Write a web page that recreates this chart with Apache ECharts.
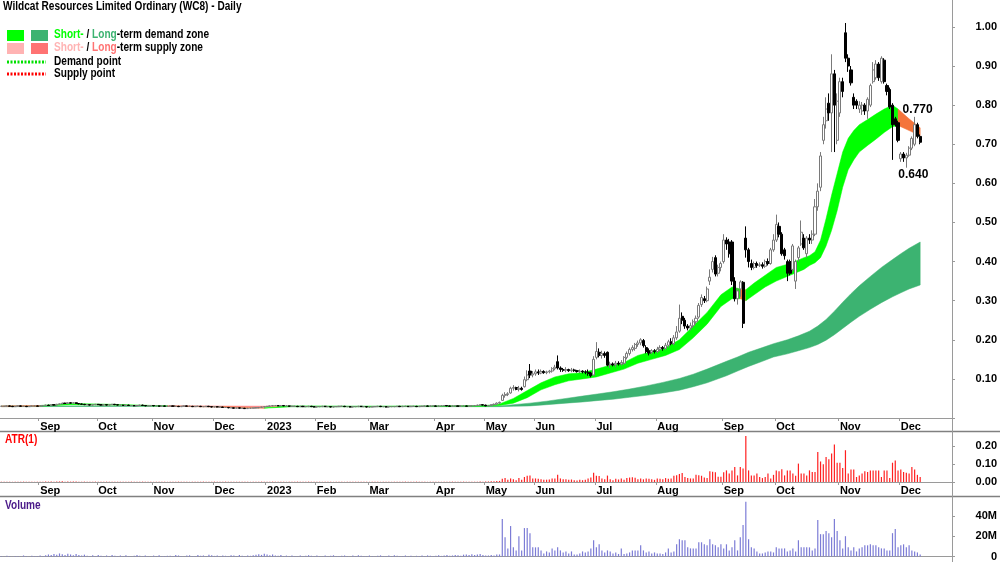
<!DOCTYPE html>
<html>
<head>
<meta charset="utf-8">
<title>Wildcat Resources (WC8) - Daily</title>
<script src="https://cdn.jsdelivr.net/npm/echarts@6/dist/echarts.min.js"></script>
<style>
  html, body { margin: 0; padding: 0; background: #fff; }
  #chart { width: 1000px; height: 562px; }
</style>
</head>
<body>
<div id="chart"></div>
<script>
// trading-day slots on the x axis, month starts and their labels
const slotCount = 344;
const monthStarts = [14, 35, 55, 77, 96, 114, 133, 157, 175, 193, 215, 237, 261, 280, 303, 325];
const monthLabels = ['Sep', 'Oct', 'Nov', 'Dec', '2023', 'Feb', 'Mar', 'Apr', 'May', 'Jun', 'Jul', 'Aug', 'Sep', 'Oct', 'Nov', 'Dec'];

// daily candles: [open, close, low, high]
const ohlc = [
  // Aug 2022
  [0.030,0.030,0.029,0.031],[0.030,0.030,0.029,0.031],[0.030,0.031,0.029,0.032],[0.031,0.030,0.029,0.032],[0.030,0.029,0.028,0.031],
  [0.029,0.030,0.028,0.031],[0.030,0.031,0.029,0.032],[0.031,0.030,0.029,0.032],[0.030,0.030,0.029,0.031],[0.030,0.029,0.028,0.031],
  [0.029,0.030,0.028,0.031],[0.030,0.031,0.029,0.032],[0.031,0.031,0.030,0.032],[0.031,0.030,0.029,0.032],
  // Sep 2022
  [0.030,0.031,0.029,0.032],[0.031,0.032,0.030,0.033],[0.032,0.033,0.031,0.034],[0.033,0.032,0.031,0.034],[0.032,0.034,0.031,0.035],
  [0.034,0.033,0.032,0.035],[0.033,0.035,0.032,0.036],[0.035,0.036,0.034,0.037],[0.036,0.038,0.035,0.039],[0.038,0.037,0.036,0.039],
  [0.037,0.039,0.036,0.040],[0.039,0.038,0.037,0.040],[0.038,0.039,0.037,0.040],[0.039,0.037,0.036,0.040],[0.037,0.036,0.035,0.038],
  [0.036,0.035,0.034,0.037],[0.035,0.034,0.033,0.036],[0.034,0.034,0.033,0.035],[0.034,0.033,0.032,0.035],[0.033,0.034,0.032,0.035],
  [0.034,0.035,0.033,0.036],
  // Oct 2022
  [0.035,0.034,0.033,0.036],[0.034,0.033,0.032,0.035],[0.033,0.034,0.032,0.035],[0.034,0.033,0.032,0.035],[0.033,0.034,0.032,0.035],
  [0.034,0.035,0.033,0.036],[0.035,0.034,0.033,0.036],[0.034,0.033,0.032,0.035],[0.033,0.033,0.032,0.034],[0.033,0.032,0.031,0.034],
  [0.032,0.033,0.031,0.034],[0.033,0.032,0.031,0.034],[0.032,0.032,0.031,0.033],[0.032,0.031,0.030,0.033],[0.031,0.032,0.030,0.033],
  [0.032,0.033,0.031,0.034],[0.033,0.032,0.031,0.034],[0.032,0.031,0.030,0.033],[0.031,0.031,0.030,0.032],[0.031,0.032,0.030,0.033],
  // Nov 2022
  [0.032,0.031,0.030,0.033],[0.031,0.031,0.030,0.032],[0.031,0.030,0.029,0.032],[0.030,0.031,0.029,0.032],[0.031,0.030,0.029,0.032],
  [0.030,0.030,0.029,0.031],[0.030,0.031,0.029,0.032],[0.031,0.030,0.029,0.032],[0.030,0.030,0.029,0.031],[0.030,0.029,0.028,0.031],
  [0.029,0.030,0.028,0.031],[0.030,0.031,0.029,0.032],[0.031,0.030,0.029,0.032],[0.030,0.030,0.029,0.031],[0.030,0.029,0.028,0.031],
  [0.029,0.030,0.028,0.031],[0.030,0.030,0.029,0.031],[0.030,0.029,0.028,0.031],[0.029,0.029,0.028,0.030],[0.029,0.030,0.028,0.031],
  [0.030,0.029,0.028,0.031],[0.029,0.028,0.027,0.030],
  // Dec 2022
  [0.028,0.029,0.027,0.030],[0.029,0.028,0.027,0.030],[0.028,0.028,0.027,0.029],[0.028,0.027,0.026,0.029],[0.027,0.027,0.026,0.028],
  [0.027,0.026,0.025,0.028],[0.026,0.026,0.025,0.027],[0.026,0.025,0.024,0.027],[0.025,0.026,0.024,0.027],[0.026,0.025,0.024,0.027],
  [0.025,0.025,0.024,0.026],[0.025,0.024,0.023,0.026],[0.024,0.025,0.023,0.026],[0.025,0.025,0.024,0.026],[0.025,0.026,0.024,0.027],
  [0.026,0.026,0.025,0.027],[0.026,0.027,0.025,0.028],[0.027,0.028,0.026,0.029],[0.028,0.029,0.027,0.030],
  // Jan 2023
  [0.029,0.030,0.028,0.031],[0.030,0.031,0.029,0.032],[0.031,0.032,0.030,0.033],[0.032,0.032,0.031,0.033],[0.032,0.031,0.030,0.033],
  [0.031,0.032,0.030,0.033],[0.032,0.031,0.030,0.033],[0.031,0.031,0.030,0.032],[0.031,0.030,0.029,0.032],[0.030,0.030,0.029,0.031],
  [0.030,0.030,0.029,0.031],[0.030,0.029,0.028,0.031],[0.029,0.030,0.028,0.031],[0.030,0.029,0.028,0.031],[0.029,0.029,0.028,0.030],
  [0.029,0.030,0.028,0.031],[0.030,0.029,0.028,0.031],[0.029,0.028,0.027,0.030],
  // Feb 2023
  [0.028,0.029,0.027,0.030],[0.029,0.029,0.028,0.030],[0.029,0.030,0.028,0.031],[0.030,0.029,0.028,0.031],[0.029,0.029,0.028,0.030],
  [0.029,0.028,0.027,0.030],[0.028,0.029,0.027,0.030],[0.029,0.029,0.028,0.030],[0.029,0.030,0.028,0.031],[0.030,0.030,0.029,0.031],
  [0.030,0.029,0.028,0.031],[0.029,0.029,0.028,0.030],[0.029,0.028,0.027,0.030],[0.028,0.029,0.027,0.030],[0.029,0.029,0.028,0.030],
  [0.029,0.030,0.028,0.031],[0.030,0.029,0.028,0.031],[0.029,0.029,0.028,0.030],[0.029,0.028,0.027,0.030],
  // Mar 2023
  [0.028,0.028,0.027,0.029],[0.028,0.029,0.027,0.030],[0.029,0.029,0.028,0.030],[0.029,0.030,0.028,0.031],[0.030,0.029,0.028,0.031],
  [0.029,0.029,0.028,0.030],[0.029,0.028,0.027,0.030],[0.028,0.029,0.027,0.030],[0.029,0.029,0.028,0.030],[0.029,0.029,0.028,0.030],
  [0.029,0.030,0.028,0.031],[0.030,0.029,0.028,0.031],[0.029,0.030,0.028,0.031],[0.030,0.030,0.029,0.031],[0.030,0.029,0.028,0.031],
  [0.029,0.030,0.028,0.031],[0.030,0.030,0.029,0.031],[0.030,0.029,0.028,0.031],[0.029,0.030,0.028,0.031],[0.030,0.030,0.029,0.031],
  [0.030,0.031,0.029,0.032],[0.031,0.030,0.029,0.032],[0.030,0.031,0.029,0.032],[0.031,0.031,0.030,0.032],
  // Apr 2023
  [0.031,0.030,0.029,0.032],[0.030,0.031,0.029,0.032],[0.031,0.031,0.030,0.032],[0.031,0.032,0.030,0.033],[0.032,0.031,0.030,0.033],
  [0.031,0.030,0.029,0.032],[0.030,0.031,0.029,0.032],[0.031,0.031,0.030,0.032],[0.031,0.030,0.029,0.032],[0.030,0.031,0.029,0.032],
  [0.031,0.031,0.030,0.032],[0.031,0.030,0.029,0.032],[0.030,0.031,0.029,0.032],[0.031,0.031,0.030,0.032],[0.031,0.032,0.030,0.033],
  [0.032,0.033,0.031,0.034],[0.033,0.034,0.032,0.035],[0.034,0.033,0.032,0.035],
  // May 2023
  [0.033,0.031,0.030,0.034],[0.031,0.032,0.030,0.033],[0.032,0.034,0.031,0.035],[0.034,0.035,0.033,0.037],[0.035,0.038,0.034,0.040],
  [0.038,0.040,0.036,0.042],[0.045,0.058,0.044,0.062],[0.058,0.060,0.052,0.066],[0.060,0.062,0.056,0.066],[0.064,0.076,0.062,0.080],
  [0.076,0.078,0.070,0.084],[0.078,0.073,0.071,0.080],[0.073,0.076,0.068,0.082],[0.076,0.073,0.070,0.080],[0.080,0.098,0.078,0.106],
  [0.098,0.110,0.094,0.122],[0.120,0.110,0.102,0.138],[0.110,0.113,0.104,0.120],
  // Jun 2023
  [0.113,0.118,0.108,0.124],[0.118,0.115,0.110,0.124],[0.115,0.119,0.112,0.124],[0.119,0.116,0.113,0.122],[0.116,0.118,0.112,0.121],
  [0.118,0.120,0.114,0.123],[0.120,0.126,0.116,0.130],[0.126,0.130,0.122,0.136],[0.144,0.128,0.124,0.160],[0.128,0.124,0.118,0.132],
  [0.124,0.122,0.118,0.128],[0.122,0.124,0.117,0.130],[0.124,0.121,0.118,0.126],[0.121,0.123,0.117,0.128],[0.123,0.121,0.118,0.126],
  [0.121,0.119,0.116,0.123],[0.119,0.120,0.115,0.124],[0.120,0.118,0.114,0.122],[0.118,0.117,0.112,0.122],[0.117,0.114,0.108,0.124],
  [0.115,0.108,0.104,0.118],[0.110,0.150,0.108,0.158],
  // Jul 2023
  [0.155,0.170,0.150,0.194],[0.168,0.160,0.155,0.178],[0.160,0.165,0.152,0.172],[0.165,0.160,0.154,0.170],[0.168,0.135,0.132,0.170],
  [0.136,0.138,0.128,0.144],[0.138,0.136,0.132,0.142],[0.136,0.140,0.130,0.146],[0.140,0.138,0.134,0.145],[0.138,0.142,0.134,0.148],
  [0.140,0.155,0.136,0.158],[0.155,0.165,0.150,0.170],[0.165,0.175,0.160,0.180],[0.175,0.180,0.170,0.186],[0.178,0.188,0.172,0.192],
  [0.188,0.192,0.182,0.198],[0.192,0.200,0.186,0.204],[0.198,0.185,0.180,0.202],[0.180,0.170,0.165,0.186],[0.172,0.166,0.160,0.178],
  [0.168,0.172,0.164,0.176],[0.172,0.170,0.165,0.176],
  // Aug 2023
  [0.170,0.176,0.166,0.182],[0.176,0.180,0.170,0.186],[0.180,0.178,0.172,0.184],[0.178,0.186,0.174,0.192],[0.186,0.195,0.180,0.200],
  [0.195,0.190,0.186,0.204],[0.190,0.205,0.186,0.212],[0.205,0.220,0.200,0.235],[0.222,0.255,0.218,0.290],[0.260,0.250,0.240,0.270],
  [0.250,0.235,0.228,0.256],[0.235,0.230,0.224,0.240],[0.230,0.236,0.224,0.244],[0.236,0.246,0.230,0.252],[0.246,0.255,0.240,0.262],
  [0.258,0.288,0.254,0.294],[0.290,0.308,0.284,0.316],[0.305,0.300,0.294,0.312],[0.300,0.330,0.296,0.336],[0.350,0.360,0.340,0.380],
  [0.380,0.400,0.372,0.412],[0.410,0.368,0.362,0.416],[0.370,0.385,0.362,0.392],[0.385,0.395,0.375,0.400],
  // Sep 2023
  [0.400,0.455,0.395,0.470],[0.455,0.445,0.430,0.462],[0.450,0.420,0.410,0.458],[0.450,0.350,0.340,0.455],[0.350,0.305,0.298,0.360],
  [0.305,0.325,0.290,0.332],[0.330,0.348,0.310,0.352],[0.347,0.242,0.230,0.350],[0.460,0.430,0.410,0.490],[0.430,0.400,0.385,0.435],
  [0.395,0.385,0.378,0.405],[0.385,0.395,0.380,0.400],[0.395,0.390,0.384,0.400],[0.390,0.392,0.386,0.398],[0.392,0.388,0.382,0.398],
  [0.388,0.400,0.384,0.405],[0.400,0.395,0.390,0.408],[0.395,0.430,0.392,0.435],[0.430,0.455,0.425,0.470],
  // Oct 2023
  [0.455,0.495,0.450,0.520],[0.490,0.470,0.462,0.500],[0.470,0.420,0.415,0.475],[0.430,0.415,0.405,0.435],[0.400,0.370,0.350,0.405],
  [0.400,0.370,0.365,0.405],[0.380,0.440,0.375,0.445],[0.350,0.400,0.330,0.405],[0.410,0.435,0.400,0.440],[0.445,0.475,0.440,0.505],
  [0.460,0.435,0.430,0.470],[0.420,0.460,0.410,0.465],[0.460,0.455,0.445,0.470],[0.455,0.470,0.445,0.480],[0.470,0.540,0.465,0.560],
  [0.540,0.580,0.530,0.600],[0.590,0.670,0.580,0.680],[0.710,0.750,0.700,0.770],[0.760,0.790,0.740,0.820],[0.805,0.780,0.760,0.830],
  [0.780,0.880,0.680,0.930],[0.880,0.800,0.680,0.890],[0.710,0.810,0.700,0.830],
  // Nov 2023
  [0.780,0.860,0.770,0.870],[0.860,0.835,0.820,0.870],[0.985,0.920,0.910,1.010],[0.920,0.900,0.885,0.930],[0.890,0.857,0.850,0.900],
  [0.820,0.800,0.790,0.830],[0.810,0.800,0.790,0.815],[0.790,0.800,0.780,0.810],[0.785,0.800,0.775,0.808],[0.800,0.785,0.775,0.805],
  [0.785,0.815,0.765,0.820],[0.800,0.850,0.795,0.855],[0.860,0.890,0.855,0.910],[0.870,0.905,0.865,0.915],[0.905,0.870,0.862,0.910],
  [0.860,0.920,0.855,0.925],[0.915,0.860,0.855,0.920],[0.850,0.835,0.825,0.855],[0.840,0.795,0.790,0.845],[0.800,0.750,0.660,0.805],
  [0.765,0.750,0.745,0.770],[0.755,0.710,0.705,0.760],
  // Dec 2023
  [0.663,0.675,0.655,0.680],[0.675,0.665,0.655,0.680],[0.665,0.672,0.640,0.678],[0.672,0.690,0.668,0.695],[0.690,0.715,0.685,0.720],
  [0.700,0.750,0.695,0.770],[0.750,0.720,0.715,0.755],[0.720,0.705,0.700,0.725]
];

// ATR(1) per day
const atr = [
  0.002,0.001,0.002,0.002,0.001,0.002,0.002,0.001,0.002,0.001,0.002,0.002,0.001,0.002,0.002,0.002,0.003,0.002,0.003,0.002,0.003,0.003,0.004,0.002,0.003,
  0.002,0.003,0.003,0.002,0.002,0.002,0.001,0.002,0.002,0.002,0.002,0.001,0.002,0.002,0.002,0.002,0.002,0.001,0.001,0.002,0.001,0.002,0.002,0.001,0.002,
  0.002,0.002,0.001,0.001,0.002,0.001,0.001,0.002,0.001,0.002,0.001,0.002,0.001,0.001,0.002,0.002,0.002,0.001,0.001,0.002,0.002,0.001,0.001,0.002,0.001,
  0.002,0.002,0.002,0.001,0.002,0.001,0.002,0.001,0.002,0.002,0.001,0.001,0.002,0.002,0.001,0.001,0.002,0.002,0.002,0.002,0.002,0.002,0.002,0.002,0.002,
  0.001,0.002,0.001,0.001,0.002,0.001,0.001,0.002,0.001,0.002,0.001,0.002,0.001,0.001,0.002,0.002,0.001,0.001,0.002,0.002,0.001,0.001,0.002,0.001,0.001,
  0.001,0.002,0.001,0.002,0.001,0.001,0.002,0.001,0.001,0.002,0.001,0.002,0.001,0.001,0.002,0.001,0.001,0.001,0.002,0.001,0.001,0.002,0.001,0.002,0.001,
  0.002,0.001,0.001,0.002,0.001,0.002,0.001,0.001,0.002,0.001,0.002,0.001,0.002,0.002,0.001,0.002,0.001,0.002,0.002,0.001,0.002,0.002,0.002,0.003,0.002,
  // May 2023
  0.003,0.003,0.004,0.004,0.006,0.006,0.018,0.022,0.012,0.020,0.016,0.010,0.022,0.012,0.028,0.035,0.036,0.020,
  // Jun
  0.020,0.018,0.015,0.012,0.013,0.014,0.020,0.020,0.040,0.020,0.015,0.016,0.012,0.014,0.010,0.008,0.012,0.010,0.012,0.020,0.025,0.052,
  // Jul
  0.035,0.034,0.020,0.015,0.036,0.016,0.010,0.018,0.014,0.020,0.012,0.022,0.025,0.026,0.024,0.016,0.020,0.015,0.020,0.018,0.015,0.012,
  // Aug
  0.020,0.018,0.015,0.022,0.018,0.020,0.035,0.038,0.045,0.050,0.028,0.022,0.020,0.020,0.040,0.038,0.035,0.025,0.022,0.060,0.058,0.055,0.030,0.030,
  // Sep
  0.055,0.065,0.047,0.065,0.084,0.037,0.084,0.075,0.258,0.065,0.037,0.037,0.047,0.028,0.022,0.028,0.047,0.019,0.040,
  // Oct
  0.065,0.060,0.071,0.037,0.065,0.065,0.047,0.035,0.103,0.047,0.047,0.037,0.065,0.056,0.056,0.168,0.115,0.100,0.140,0.127,0.160,0.210,0.108,
  // Nov
  0.108,0.078,0.178,0.047,0.070,0.070,0.028,0.037,0.047,0.060,0.056,0.065,0.065,0.065,0.065,0.028,0.065,0.065,0.022,0.108,0.120,0.065,
  // Dec
  0.070,0.056,0.052,0.047,0.084,0.070,0.040,0.028
];

// daily volume, millions of shares
const volume = [
  0.5,0.3,0.8,0.4,0.2,0.6,0.5,0.3,1.0,0.4,0.3,0.7,0.5,0.4,0.9,0.6,1.2,
  2.0,1.5,2.5,1.8,3.0,2.2,1.6,2.8,2.0,1.2,2.4,1.5,1.0,1.8,0.8,
  0.6,1.2,0.5,1.6,0.8,0.4,1.0,0.6,1.4,0.7,0.5,0.9,0.4,1.2,0.6,0.3,0.8,1.5,0.7,0.4,1.1,0.5,0.3,0.9,0.6,1.3,0.5,0.4,0.7,
  0.8,0.4,1.6,1.0,0.5,0.3,0.9,1.2,0.6,0.4,1.4,0.8,1.0,0.5,1.8,1.2,0.6,0.9,0.4,1.1,0.7,0.5,1.3,0.9,0.6,1.5,0.8,0.4,1.0,0.7,
  1.2,1.8,2.2,1.6,2.6,1.9,1.3,2.0,1.0,0.8,1.4,0.6,0.9,0.5,1.1,
  0.6,0.4,1.0,0.5,0.8,1.3,0.7,0.4,0.9,0.6,0.3,1.1,0.5,0.8,1.2,0.6,0.4,0.7,1.0,0.5,0.3,0.9,0.6,1.2,0.8,0.4,0.6,1.0,0.5,0.3,
  0.8,1.1,0.6,0.4,0.9,0.5,1.2,0.7,0.4,0.6,1.0,0.5,0.8,0.3,0.7,
  0.6,0.9,0.5,1.1,0.7,0.4,0.8,1.2,0.6,0.9,1.4,0.7,1.0,1.6,1.2,0.8,1.8,2.0,1.4,2.2,1.6,1.9,2.4,1.5,
  // May 2023
  1,1,1.5,1,2,2,37,19,8,30,9,6,20,6,28,28,23,9,
  // Jun
  9,9,6,3,5,4,8,6,9,6,4,5,3,5,2,2,3,5,4,5,8,16,
  // Jul
  9,12,6,4,6,5,3,4,2.5,8,2.5,3,4,6,6,6,11,6,4,5,3,4,
  // Aug
  3,3,2.5,4,8,4,5,12,17,16,16,9,8,8,8,14,14,12,11,17,12,11,9,12,
  // Sep
  8,12,6,9,16,6,19,31,54,17,9,8,5,3,3,4,5,5,4,
  // Oct
  9,8,8,8,5,6,8,5,16,9,9,9,9,6,8,36,22,22,25,23,19,37,25,
  // Nov
  16,8,20,9,6,9,5,8,9,11,11,12,11,11,9,8,8,6,6,23,27,9,
  // Dec
  11,12,9,11,6,5,4,2
];

// short-term zone: edges at chosen days, and day ranges shown as supply
const shortIdx = [0,14,25,40,60,80,95,105,130,160,
  175,180,185,190,195,200,205,210,215,220,
  225,230,235,240,245,250,255,260,264,267,
  269,272,276,280,285,290,292,294,296,298,
  300,302,304,306,308,310,313,316,319,322,
  324,328,332];
const shortTop = [0.031,0.032,0.037,0.035,0.031,0.029,0.026,0.031,0.030,0.031,
  0.032,0.036,0.050,0.070,0.090,0.105,0.113,0.116,0.125,0.135,
  0.142,0.160,0.170,0.180,0.200,0.235,0.270,0.315,0.335,0.330,
  0.328,0.345,0.365,0.385,0.395,0.410,0.415,0.425,0.455,0.510,
  0.570,0.625,0.680,0.715,0.735,0.750,0.763,0.777,0.790,0.800,
  0.790,0.765,0.742];
const shortBot = [0.029,0.030,0.034,0.033,0.030,0.028,0.025,0.029,0.029,0.030,
  0.030,0.032,0.038,0.052,0.072,0.085,0.095,0.100,0.105,0.115,
  0.125,0.140,0.150,0.160,0.175,0.205,0.240,0.285,0.305,0.305,
  0.300,0.315,0.335,0.350,0.365,0.380,0.390,0.397,0.410,0.440,
  0.480,0.530,0.590,0.635,0.660,0.680,0.697,0.713,0.730,0.745,
  0.748,0.735,0.722];
const shortSupply = [[0, 14], [60, 95], [267, 269], [324, 332]];

// long-term zone
const longIdx = [0,60,100,150,175,180,185,191,197,204,
  210,216,221,227,233,239,245,250,255,262,
  266,270,275,279,284,288,292,295,298,301,
  304,307,310,314,318,322,325,328,332];
const longTop = [0.031,0.031,0.030,0.030,0.030,0.031,0.034,0.038,0.043,0.050,
  0.056,0.062,0.067,0.074,0.082,0.091,0.101,0.112,0.125,0.145,
  0.156,0.168,0.180,0.190,0.200,0.210,0.222,0.235,0.252,0.273,
  0.296,0.318,0.338,0.362,0.385,0.405,0.420,0.434,0.450];
const longBot = [0.029,0.030,0.029,0.029,0.029,0.029,0.030,0.031,0.034,0.038,
  0.041,0.045,0.048,0.053,0.058,0.064,0.071,0.080,0.090,0.108,
  0.120,0.132,0.145,0.156,0.164,0.172,0.180,0.188,0.199,0.213,
  0.229,0.245,0.260,0.278,0.295,0.310,0.320,0.330,0.340];
const longSupply = [[60, 100]];

const FONT = "'Liberation Sans Narrow','Arial Narrow','Liberation Sans',Arial,sans-serif";
const AXIS_GREY = '#9a9a9a';
const NARROW = 0.84;   // horizontal squeeze for the condensed caption font

const cats = Array.from({ length: slotCount }, (_, i) => 'd' + i);
const monthAt = {};
monthStarts.forEach((s, k) => { monthAt[s] = monthLabels[k]; });
const isMonthStart = (idx) => monthAt[idx] !== undefined;

// split a zone into runs of knots that share one colour
function zoneRuns(idx, supply) {
  const flag = k => supply.some(r => idx[k] >= r[0] && idx[k] < r[1]) ? 1 : 0;
  const runs = [];
  let start = 0;
  for (let k = 1; k < idx.length - 1; k++) {
    if (flag(k) !== flag(start)) { runs.push([idx[start], idx[k], start, k, flag(start)]); start = k; }
  }
  runs.push([idx[start], idx[idx.length - 1], start, idx.length - 1, flag(start)]);
  return runs;
}

function zoneSeries(name, idx, top, bot, supply, demandColor, supplyColor, z) {
  return {
    name, type: 'custom', xAxisIndex: 0, yAxisIndex: 0, z, silent: true,
    encode: { x: [0, 1], y: 4 },
    data: zoneRuns(idx, supply),
    renderItem: (params, api) => {
      const s = api.value(2), e = api.value(3);
      const pts = [];
      for (let k = s; k <= e; k++) pts.push(api.coord([idx[k], top[k]]));
      for (let k = e; k >= s; k--) pts.push(api.coord([idx[k], bot[k]]));
      const col = api.value(4) ? supplyColor : demandColor;
      return { type: 'polygon', shape: { points: pts }, style: { fill: col, stroke: col, lineWidth: 0.5 } };
    }
  };
}

function dayAxis(gridIndex, showLabels) {
  return {
    type: 'category', gridIndex, data: cats, boundaryGap: true,
    axisLine: { show: true, lineStyle: { color: AXIS_GREY, width: 1 } },
    axisTick: { show: showLabels, interval: (i) => isMonthStart(i), length: 3, lineStyle: { color: AXIS_GREY } },
    axisLabel: {
      show: showLabels, interval: (i) => isMonthStart(i),
      formatter: (v, i) => monthAt[i] || '',
      align: 'left', margin: 3, color: '#000', fontWeight: 'bold', fontSize: 11, fontFamily: FONT
    },
    splitLine: { show: false }
  };
}

function sideAxis(gridIndex, max, interval, fmt) {
  return {
    type: 'value', gridIndex, position: 'right', min: 0, max, interval,
    axisLine: { show: true, lineStyle: { color: AXIS_GREY } },
    axisTick: { show: true, length: 3, lineStyle: { color: AXIS_GREY } },
    axisLabel: {
      formatter: (v) => {
        const k = v / interval;
        return Math.abs(k - Math.round(k)) > 1e-6 ? '' : fmt(v);
      },
      showMaxLabel: false, align: 'right', margin: 45,
      color: '#000', fontWeight: 'bold', fontSize: 11, fontFamily: FONT
    },
    splitLine: { show: false }
  };
}

// recent swing high / low annotations
const tail = ohlc.length - 8;
let hiI = tail, loI = tail;
for (let i = tail; i < ohlc.length; i++) {
  if (ohlc[i][3] > ohlc[hiI][3]) hiI = i;
  if (ohlc[i][2] < ohlc[loI][2]) loI = i;
}

const txt = (x, y, text, extra) => ({
  type: 'text', x, y, scaleX: NARROW, silent: true,
  style: Object.assign({ text, fill: '#000', fontSize: 12, fontWeight: 'bold', fontFamily: FONT, verticalAlign: 'middle' }, extra || {})
});
const rect = (x, y, fill) => ({ type: 'rect', shape: { x, y, width: 17, height: 11 }, style: { fill }, silent: true });
const hline = (y, x1, x2, stroke, width, dash) => ({
  type: 'line', silent: true, shape: { x1, y1: y, x2, y2: y },
  style: { stroke, lineWidth: width, lineDash: dash || null }
});
const richFont = { fontSize: 12, fontWeight: 'bold', fontFamily: FONT };

const chart = echarts.init(document.getElementById('chart'));
chart.setOption({
  animation: false,
  backgroundColor: '#fff',
  grid: [
    { left: 0, right: 48, top: 0, height: 418 },
    { left: 0, right: 48, top: 432, height: 50 },
    { left: 0, right: 48, top: 497, height: 62 }
  ],
  xAxis: [dayAxis(0, true), dayAxis(1, true), dayAxis(2, false)],
  yAxis: [
    sideAxis(0, 1.0688, 0.1, v => v < 1e-9 ? '' : v.toFixed(2)),
    sideAxis(1, 0.28, 0.1, v => v.toFixed(2)),
    sideAxis(2, 58.6, 20, v => v === 0 ? '0' : v + 'M')
  ],
  series: [
    zoneSeries('Long-term zone', longIdx, longTop, longBot, longSupply, '#3cb371', '#ff7373', 1),
    zoneSeries('Short-term zone', shortIdx, shortTop, shortBot, shortSupply, '#00ff00', '#f4743b', 2),
    {
      name: 'WC8', type: 'candlestick', xAxisIndex: 0, yAxisIndex: 0, z: 3,
      data: ohlc, barWidth: 2.6,
      itemStyle: { color: '#ffffff', color0: '#000000', borderColor: '#7a7a7a', borderColor0: '#000000', borderWidth: 1 },
      markPoint: {
        symbol: 'circle', symbolSize: 1, itemStyle: { color: 'rgba(0,0,0,0)' },
        label: { show: true, position: 'inside', color: '#000', fontWeight: 'bold', fontSize: 12, fontFamily: FONT,
          formatter: p => p.value.toFixed(3) },
        data: [
          { coord: [cats[hiI], ohlc[hiI][3]], value: ohlc[hiI][3], label: { offset: [3, -7] } },
          { coord: [cats[loI], ohlc[loI][2]], value: ohlc[loI][2], label: { offset: [7, 7] } }
        ]
      }
    },
    {
      name: 'ATR(1)', type: 'bar', xAxisIndex: 1, yAxisIndex: 1, data: atr,
      barWidth: 1.2, itemStyle: { color: '#ff2020' }
    },
    {
      name: 'Volume', type: 'bar', xAxisIndex: 2, yAxisIndex: 2, data: volume,
      barWidth: 1.2, itemStyle: { color: '#7c7cd6' }
    }
  ],
  graphic: [
    txt(3, 7, 'Wildcat Resources Limited Ordinary (WC8) - Daily'),
    rect(7, 30, '#00ff00'), rect(31, 30, '#3cb371'),
    txt(54, 35, '{a|Short-} / {b|Long}-term demand zone', {
      rich: { a: Object.assign({ fill: '#00ff00' }, richFont), b: Object.assign({ fill: '#3cb371' }, richFont) }
    }),
    rect(7, 43, '#ffb3b3'), rect(31, 43, '#ff7373'),
    txt(54, 48, '{a|Short-} / {b|Long}-term supply zone', {
      rich: { a: Object.assign({ fill: '#ffb3b3' }, richFont), b: Object.assign({ fill: '#ff7373' }, richFont) }
    }),
    hline(62, 7, 46, '#00e000', 3, [2, 1.5]),
    txt(54, 62, 'Demand point'),
    hline(74, 7, 46, '#ff0000', 3, [2, 1.5]),
    txt(54, 74, 'Supply point'),
    txt(5, 440, 'ATR(1)', { fill: '#ff0000' }),
    txt(5, 506, 'Volume', { fill: '#4b1a8a' }),
    hline(431.5, 0, 1000, '#808080', 1.5),
    hline(496.5, 0, 1000, '#808080', 1.5),
    { type: 'line', silent: true, shape: { x1: 952.5, y1: 0, x2: 952.5, y2: 562 }, style: { stroke: AXIS_GREY, lineWidth: 1 } }
  ]
});
</script>
</body>
</html>
